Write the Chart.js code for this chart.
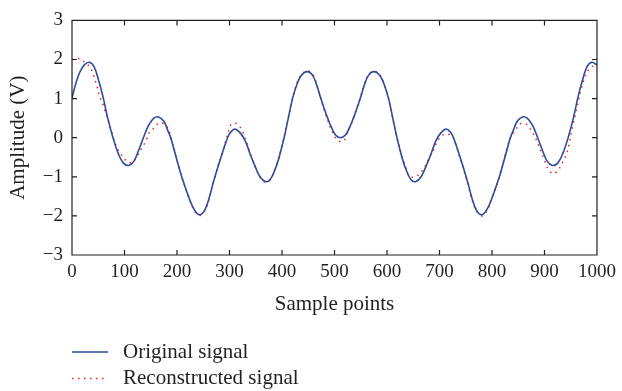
<!DOCTYPE html>
<html><head><meta charset="utf-8">
<script src="https://cdn.jsdelivr.net/npm/chart.js@4"></script>
<style>html,body{margin:0;padding:0;background:#fff}#wrap{width:622px;height:391px;position:relative}</style>
</head><body><div id="wrap"><canvas id="c" width="622" height="391"></canvas></div>
<script>
// ---- data ----
const seriesNames = ['Original signal', 'Reconstructed signal'];
const xTitle = 'Sample points';
const yTitle = 'Amplitude (V)';
const xTickValues = [0, 100, 200, 300, 400, 500, 600, 700, 800, 900, 1000];
const yTickValues = [-3, -2, -1, 0, 1, 2, 3];

const origX = [
  0,8,15,24,33,42,50,59,68,78,
  88,98,108,118,127,136,146,156,165,175,
  182,188,198,209,223,232,242,252,260,268,
  276,286,292,298,304,311,320,330,339,349,
  358,368,377,386,393,404,412,420,428,436,
  448,458,466,474,481,487,494,502,511,521,
  529,536,542,549,557,565,575,587,595,603,
  611,619,630,637,646,655,665,674,684,693,
  703,712,719,725,731,737,747,755,763,771,
  781,791,800,814,825,835,841,848,858,867,
  877,887,896,905,915,925,935,945,955,964,
  973,981,990,999,1000];
const origY = [
  1.02,1.42,1.68,1.87,1.93,1.82,1.5,1.05,0.5,0.0,
  -0.4,-0.65,-0.71,-0.6,-0.32,0.0,0.32,0.5,0.53,0.42,
  0.2,0.0,-0.48,-1.0,-1.54,-1.82,-1.97,-1.87,-1.6,-1.2,
  -0.83,-0.41,-0.16,0.05,0.17,0.22,0.13,-0.08,-0.41,-0.74,
  -1.0,-1.12,-1.08,-0.84,-0.57,0.0,0.5,1.0,1.35,1.58,
  1.69,1.6,1.35,1.0,0.72,0.5,0.27,0.07,0.0,0.07,
  0.27,0.5,0.72,1.0,1.35,1.6,1.69,1.58,1.35,1.0,
  0.5,0.0,-0.57,-0.84,-1.08,-1.12,-1.0,-0.74,-0.41,-0.08,
  0.13,0.22,0.17,0.05,-0.16,-0.41,-0.83,-1.2,-1.6,-1.87,
  -1.97,-1.82,-1.54,-1.0,-0.48,0.0,0.2,0.42,0.53,0.5,
  0.32,0.0,-0.32,-0.6,-0.71,-0.65,-0.4,0.0,0.5,1.05,
  1.5,1.82,1.93,1.87,1.86];

const reconX = [
  0,8,15,24,33,39,43,48,53,59,
  63,70,77,84,97,106,112,116,125,134,
  141,147,154,162,171,182,188,198,209,223,
  232,242,252,260,268,276,286,292,298,302,
  312,318,323,327,334,342,351,360,369,378,
  387,395,404,412,420,428,436,448,458,466,
  474,481,487,494,502,509,518,524,529,536,
  542,549,557,565,575,587,595,603,611,619,
  628,636,641,649,660,669,681,689,695,704,
  712,719,725,731,737,747,755,763,771,781,
  791,800,814,825,835,846,854,866,874,880,
  886,893,899,907,917,926,932,938,943,947,
  951,955,959,962,967,970,975,981,989,997,
  1000];
const reconY = [
  2.0,2.02,2.02,1.93,1.82,1.68,1.51,1.3,1.05,0.85,
  0.68,0.4,0.09,-0.2,-0.49,-0.62,-0.64,-0.62,-0.45,-0.24,
  -0.08,0.13,0.22,0.34,0.38,0.26,0.03,-0.48,-1.0,-1.55,
  -1.84,-1.99,-1.89,-1.62,-1.2,-0.83,-0.4,-0.12,0.16,0.32,
  0.37,0.3,0.22,0.09,-0.17,-0.5,-0.82,-1.05,-1.14,-1.06,
  -0.8,-0.45,0.02,0.5,1.0,1.38,1.6,1.71,1.64,1.38,
  1.0,0.68,0.45,0.2,0.0,-0.09,-0.08,0.12,0.27,0.5,
  0.75,1.02,1.38,1.62,1.7,1.6,1.35,1.0,0.5,0.0,
  -0.45,-0.78,-0.97,-1.01,-0.95,-0.81,-0.5,-0.3,-0.12,0.05,
  0.09,0.08,0.03,-0.17,-0.42,-0.86,-1.24,-1.63,-1.89,-2.0,
  -1.85,-1.56,-1.0,-0.45,0.0,0.22,0.36,0.34,0.2,0.07,
  -0.1,-0.35,-0.54,-0.8,-0.92,-0.83,-0.69,-0.54,-0.37,-0.16,
  0.13,0.38,0.6,0.8,1.07,1.26,1.47,1.68,1.8,1.86,
  1.87];

// ---- styling ----
const FONT = '"Liberation Serif", "Times New Roman", serif';
const TEXT = '#231f20';
const BLUE = '#2c4c9c';
const RED = '#ff1a1a';

const toPts = (xs, ys) => xs.map((x, i) => ({x, y: ys[i]}));

const framePlugin = {
  id: 'frame',
  afterDatasetsDraw(chart) {
    const {ctx, chartArea: a, scales: {x, y}} = chart;
    ctx.save();
    ctx.strokeStyle = TEXT;
    ctx.lineWidth = 1.2;
    ctx.beginPath();
    ctx.rect(a.left, a.top, a.right - a.left, a.bottom - a.top);
    x.ticks.forEach(t => {
      const px = x.getPixelForValue(t.value);
      ctx.moveTo(px, a.bottom); ctx.lineTo(px, a.bottom - 5);
      ctx.moveTo(px, a.top); ctx.lineTo(px, a.top + 5);
    });
    y.ticks.forEach(t => {
      const py = y.getPixelForValue(t.value);
      ctx.moveTo(a.left, py); ctx.lineTo(a.left + 5, py);
      ctx.moveTo(a.right, py); ctx.lineTo(a.right - 5, py);
    });
    ctx.stroke();
    ctx.restore();
  }
};

const legendPlugin = {
  id: 'legendBelow',
  afterDraw(chart) {
    const {ctx, chartArea: a} = chart;
    const rows = [352, 378.5];
    ctx.save();
    chart.data.datasets.forEach((ds, i) => {
      const y = rows[i];
      ctx.beginPath();
      ctx.strokeStyle = ds.borderColor;
      ctx.lineWidth = ds.borderWidth;
      ctx.setLineDash(ds.borderDash || []);
      ctx.moveTo(a.left, y);
      ctx.lineTo(a.left + 36, y);
      ctx.stroke();
      ctx.setLineDash([]);
      ctx.fillStyle = TEXT;
      ctx.font = '21px ' + FONT;
      ctx.textBaseline = 'alphabetic';
      ctx.textAlign = 'left';
      ctx.fillText(ds.label, a.left + 51, y + 5.5);
    });
    ctx.restore();
  }
};

new Chart(document.getElementById('c'), {
  type: 'line',
  data: {
    datasets: [
      {label: seriesNames[0], data: toPts(origX, origY), borderColor: BLUE, borderWidth: 1.6,
       pointRadius: 0, tension: 0.35, fill: false},
      {label: seriesNames[1], data: toPts(reconX, reconY), borderColor: RED, borderWidth: 1.5,
       borderDash: [1.5, 4.5], pointRadius: 0, tension: 0.35, fill: false}
    ]
  },
  options: {
    responsive: false,
    animation: false,
    events: [],
    layout: {padding: {left: 0, right: 20, top: 16, bottom: 71}},
    plugins: {legend: {display: false}, tooltip: {enabled: false}},
    scales: {
      x: {
        type: 'linear', min: 0, max: 1000,
        afterBuildTicks: s => { s.ticks = xTickValues.map(v => ({value: v})); },
        ticks: {font: {family: FONT, size: 19}, color: TEXT, padding: 6, maxRotation: 0, autoSkip: false,
                callback: v => String(v)},
        grid: {display: false, drawTicks: false},
        border: {display: false},
        title: {display: true, text: xTitle, font: {family: FONT, size: 21}, color: TEXT, padding: {top: 0, bottom: 3}},
        afterFit: s => { s.height = 65; }
      },
      y: {
        type: 'linear', min: -3, max: 3,
        afterBuildTicks: s => { s.ticks = yTickValues.map(v => ({value: v})); },
        ticks: {font: {family: FONT, size: 19}, color: TEXT, padding: 9,
                callback: v => String(v).replace('-', '\u2212')},
        grid: {display: false, drawTicks: false},
        border: {display: false},
        title: {display: true, text: yTitle, font: {family: FONT, size: 21}, color: TEXT, padding: {top: 6, bottom: 0}},
        afterFit: s => { s.width = 72; }
      }
    }
  },
  plugins: [framePlugin, legendPlugin]
});
</script>
</body></html>
